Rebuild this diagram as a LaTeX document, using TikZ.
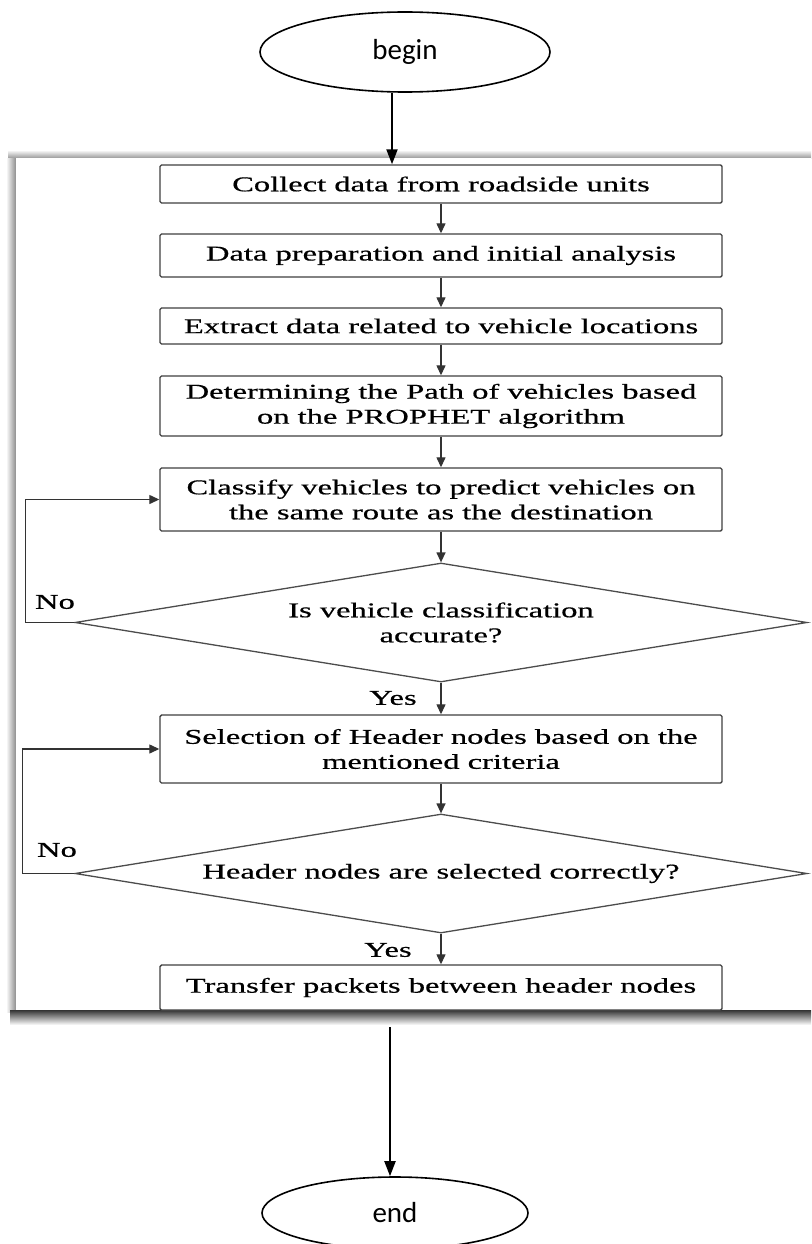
\documentclass[tikz,border=0pt]{standalone}
\usepackage{fontspec}
\setmainfont{Liberation Serif}
\newfontfamily\boxfont[FakeStretch=1.55,FakeBold=0.6]{Liberation Serif}
\newfontfamily\termfont{Carlito}
\usetikzlibrary{shapes.geometric,arrows.meta}
\begin{document}
\begin{tikzpicture}[x=1pt,y=-1pt,
  proc/.style={draw=black!75,line width=1.4pt,rounded corners=1.5pt,fill=white,minimum width=562pt,inner sep=0pt,align=center,font=\boxfont\fontsize{21}{25}\selectfont},
  dec/.style={diamond,shape aspect=6.15,draw=black!70,line width=1.3pt,minimum width=732pt,minimum height=119pt,inner sep=0pt,align=center,font=\boxfont\fontsize{21}{25}\selectfont},
  term/.style={ellipse,draw=black,line width=1.6pt,inner sep=0pt,font=\termfont\fontsize{29}{34}\selectfont},
  bigarr/.style={line width=2pt,-{Triangle[length=15pt,width=11pt]}},
  arr/.style={draw=black!80,line width=1.3pt,-{Triangle[length=10pt,width=9pt]}},
  lbl/.style={inner sep=0pt,font=\boxfont\fontsize{21}{25}\selectfont}
]
\useasboundingbox (0,0) rectangle (811,1244);
\fill[white] (0,0) rectangle (811,1244);
% pasted frame with shadow
\shade[top color=white,bottom color=black!40] (8,150) rectangle (811,158);
\shade[left color=white,right color=black!45] (6,158) rectangle (16,1012);
\shade[top color=black!80,bottom color=white] (10,1010) rectangle (811,1025);
\fill[white] (16,158) rectangle (811,1010);

\node[term,minimum width=290pt,minimum height=80pt] (start) at (405,52) {begin};
\node[proc,minimum height=38pt] (collect) at (441,184) {Collect data from roadside units};
\node[proc,minimum height=43pt] (prep) at (441,255.5) {Data preparation and initial analysis};
\node[proc,minimum height=36pt] (extract) at (441,326) {Extract data related to vehicle locations};
\node[proc,minimum height=60pt] (path) at (441,406) {Determining the Path of vehicles based\\on the PROPHET algorithm};
\node[proc,minimum height=63pt] (classify) at (441,499.5) {Classify vehicles to predict vehicles on\\the same route as the destination};
\node[dec] (acc) at (441,622.5) {Is vehicle classification\\accurate?};
\node[proc,minimum height=68pt] (select) at (441,749) {Selection of Header nodes based on the\\mentioned criteria};
\node[dec] (hdr) at (441,873.5) {Header nodes are selected correctly?};
\node[proc,minimum height=45pt] (transfer) at (441,987.5) {Transfer packets between header nodes};
\node[term,minimum width=266pt,minimum height=72pt] (finish) at (395,1213) {end};

\node[lbl] (no1) at (55,602) {No};
\node[lbl] (no2) at (57,850) {No};
\node[lbl] (yes1) at (393,698) {Yes};
\node[lbl] (yes2) at (388,950) {Yes};

\coordinate (bx) at (392,0);
\draw[bigarr] (start.south -| bx) -- (collect.north -| bx);
\draw[arr] (collect) -- (prep);
\draw[arr] (prep) -- (extract);
\draw[arr] (extract) -- (path);
\draw[arr] (path) -- (classify);
\draw[arr] (classify) -- (acc);
\draw[arr] (acc.west) -- ++(-49,0) |- (classify.west);
\draw[arr] (acc.south) -- (select.north);
\draw[arr] (select) -- (hdr);
\draw[arr] (hdr.west) -- ++(-52,0) |- (select.west);
\draw[arr] (hdr.south) -- (transfer.north);
\coordinate (es) at (390,1027);
\draw[bigarr] (es) -- (es |- finish.north);
\end{tikzpicture}
\end{document}
